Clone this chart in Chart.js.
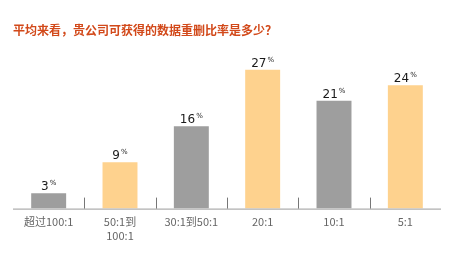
<!DOCTYPE html>
<html><head><meta charset="utf-8">
<script src="https://cdn.jsdelivr.net/npm/chart.js@4.4.0/dist/chart.umd.min.js"></script>
<style>html,body{margin:0;padding:0;background:#fff}#w{width:465px;height:272px}</style>
</head><body><div id="w"><canvas id="c"></canvas></div>
<script>
const titleText = '平均来看，贵公司可获得的数据重删比率是多少？';
const categories = [['超过100:1'], ['50:1到', '100:1'], ['30:1到50:1'], ['20:1'], ['10:1'], ['5:1']];
const values = [3, 9, 16, 27, 21, 24];
const barColors = ['#9e9e9e', '#fed28e', '#9e9e9e', '#fed28e', '#9e9e9e', '#fed28e'];
const yMax = 30;

const deco = {
  id: 'deco',
  afterDatasetsDraw(chart) {
    const {ctx, chartArea, scales} = chart;
    const x = scales.x;
    ctx.save();
    ctx.strokeStyle = '#9a9a9a';
    ctx.lineWidth = 1;
    ctx.beginPath();
    ctx.moveTo(chartArea.left, chartArea.bottom + 0.5);
    ctx.lineTo(chartArea.right, chartArea.bottom + 0.5);
    ctx.stroke();
    ctx.strokeStyle = '#777';
    for (let i = 1; i < categories.length; i++) {
      const px = Math.round((x.getPixelForValue(i - 1) + x.getPixelForValue(i)) / 2) + 0.5;
      ctx.beginPath();
      ctx.moveTo(px, chartArea.bottom - 11);
      ctx.lineTo(px, chartArea.bottom);
      ctx.stroke();
    }
    const meta = chart.getDatasetMeta(0);
    meta.data.forEach((bar, i) => {
      const num = String(values[i]);
      ctx.font = '500 12px "DejaVu Sans"';
      const w = ctx.measureText(num).width;
      ctx.font = '7px "DejaVu Sans"';
      const pw = ctx.measureText('%').width;
      const total = w + pw + 1;
      const left = bar.x - total / 2;
      ctx.fillStyle = '#1a1a1a';
      ctx.textBaseline = 'alphabetic';
      ctx.textAlign = 'left';
      ctx.font = '500 12px "DejaVu Sans"';
      ctx.fillText(num, left, bar.y - 3);
      ctx.font = '7px "DejaVu Sans"';
      ctx.fillText('%', left + w + 1, bar.y - 8);
    });
    ctx.restore();
  }
};

new Chart(document.getElementById('c'), {
  type: 'bar',
  data: {
    labels: categories,
    datasets: [{ data: values, backgroundColor: barColors, barPercentage: 0.49, categoryPercentage: 1 }]
  },
  options: {
    responsive: true,
    maintainAspectRatio: false,
    animation: false,
    layout: { padding: { left: 13, right: 24, top: 0, bottom: 23 } },
    plugins: {
      legend: { display: false },
      tooltip: { enabled: false },
      title: {
        display: true, text: titleText, align: 'start', color: '#d2491a',
        font: { size: 12, weight: 'bold', family: '"Noto Sans CJK SC"' },
        padding: { top: 23, bottom: 17 }
      }
    },
    scales: {
      x: {
        grid: { display: false, drawTicks: false },
        border: { display: false },
        ticks: { color: '#666', font: { size: 11, family: '"Noto Sans CJK SC"' }, padding: 7, maxRotation: 0, autoSkip: false }
      },
      y: { display: false, min: 0, max: yMax }
    }
  },
  plugins: [deco]
});
</script></body></html>
